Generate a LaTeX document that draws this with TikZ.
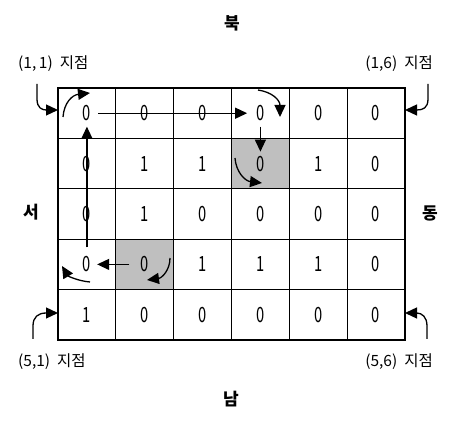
\documentclass[tikz,border=0pt]{standalone}
\usepackage{fontspec}
\setmainfont{Noto Sans CJK KR}
\newfontfamily\digfont[FakeStretch=0.7]{Noto Sans CJK KR}
\usetikzlibrary{arrows.meta}
\begin{document}
\begin{tikzpicture}[x=1pt,y=-1pt,
  cellbox/.style={draw,line width=1.3pt,minimum width=57.83pt,minimum height=50.4pt,inner sep=0pt,outer sep=0pt},
  digit/.style={font=\digfont\fontsize{21}{21}\selectfont,inner sep=1pt},
  arr/.style={line width=1.3pt,-{Triangle[length=12pt,width=11pt]}},
  lbl/.style={font=\fontsize{15.5}{15.5}\selectfont,inner sep=0pt},
  dirlbl/.style={font=\bfseries\fontsize{17}{17}\selectfont,inner sep=0pt}]
\useasboundingbox (0,0) rectangle (458,427);
% shaded cells
\fill[black!25] (231.5,138.4) rectangle (289.3,188.8);
\fill[black!25] (115.8,239.2) rectangle (173.7,289.6);
% grid
\foreach [count=\i] \rowvals in {{0,0,0,0,0,0},{0,1,1,0,1,0},{0,1,0,0,0,0},{0,0,1,1,1,0},{1,0,0,0,0,0}} {
  \foreach [count=\j] \v in \rowvals {
    \node[cellbox] (c\i\j) at ({58+57.83*(\j-0.5)},{88+50.4*(\i-0.5)}) {};
    \node[digit] (d\i\j) at (c\i\j) {\v};
  }
}
% labels
\node[dirlbl] (n) at (232,23) {북};
\node[dirlbl] (s) at (231,399) {남};
\node[dirlbl] (w) at (31,212) {서};
\node[dirlbl] (e) at (430,213) {동};
\node[lbl,anchor=west] (l11) at (18,64) {(1,\,1)\hspace{7pt}지점};
\node[lbl,anchor=east] (l16) at (433,64) {(1,6)\hspace{7pt}지점};
\node[lbl,anchor=west] (l51) at (18,362) {(5,1)\hspace{7pt}지점};
\node[lbl,anchor=east] (l56) at (433,362) {(5,6)\hspace{7pt}지점};
% corner arrows
\draw[arr] (37,84) -- (37,99) .. controls (37,108) and (42,110) .. (58,110);
\draw[arr] (428,84) -- (428,99) .. controls (428,108) and (423,110) .. (405,110);
\draw[arr] (33,339) -- (33,326) .. controls (33,317) and (38,313) .. (58,313);
\draw[arr] (427,339) -- (427,326) .. controls (427,317) and (422,313) .. (405,313);
% path arrows
\draw[arr] ([xshift=6pt]d11.east) -- ([xshift=-8pt]d14.west);
\draw[arr] ([yshift=-4.5pt]d14.south) -- ([yshift=3pt]d24.north);
\draw[arr] ([xshift=-10pt]d42.west) -- ([xshift=5pt]d41.east);
\draw[arr] ([yshift=8pt]d41.north) -- ([yshift=-4.5pt]d11.south);
% turning arrows
\draw[arr] (63,117) .. controls (64,103) and (72,95) .. (90,93);
\draw[arr] (258,90) .. controls (272,92) and (280,100) .. (280,117);
\draw[arr] (235,158) .. controls (236,172) and (245,181) .. (262,183);
\draw[arr] (170,258) .. controls (170,270) and (162,278) .. (147,280);
\draw[arr] (90,282) .. controls (78,281) and (68,276) .. (62,266);
\end{tikzpicture}
\end{document}
